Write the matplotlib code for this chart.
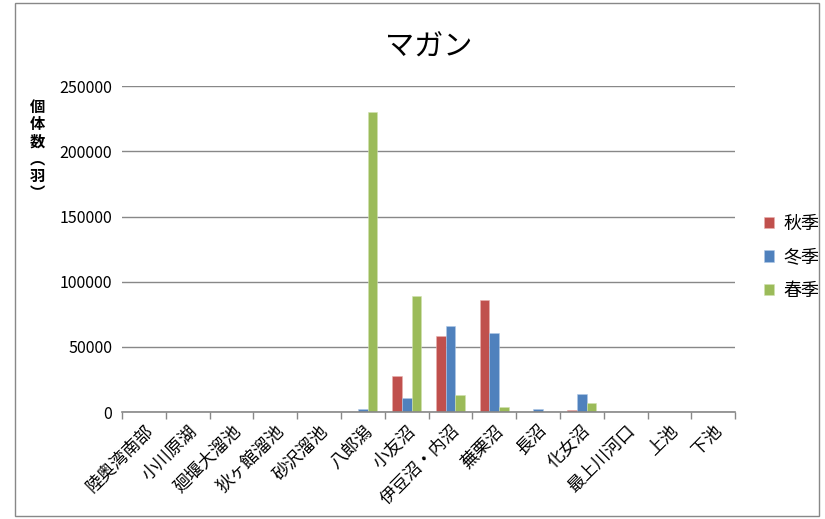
import numpy as np
import matplotlib
matplotlib.use('Agg')
import matplotlib.pyplot as plt
from matplotlib.patches import Rectangle
from matplotlib.transforms import ScaledTranslation

plt.rcParams['font.family'] = ['Noto Sans CJK JP', 'DejaVu Sans']

# データ
sites = ['陸奥湾南部', '小川原湖', '廻堰大溜池', '狄ヶ館溜池', '砂沢溜池', '八郎潟', '小友沼',
         '伊豆沼・内沼', '蕪栗沼', '長沼', '化女沼', '最上川河口', '上池', '下池']
autumn = [0, 0, 0, 0, 0, 0, 27500, 58500, 86000, 0, 1500, 0, 0, 0]
winter = [0, 0, 0, 0, 0, 2000, 10500, 66000, 61000, 2000, 14000, 0, 0, 0]
spring = [0, 0, 0, 0, 0, 230000, 89000, 13000, 4000, 0, 7000, 0, 0, 0]
yticks = [0, 50000, 100000, 150000, 200000, 250000]

fig = plt.figure(figsize=(8.25, 5.19), dpi=100)
ax = fig.add_axes([0.148, 0.206, 0.743, 0.628])

x = np.arange(len(sites))
w = 0.22
ax.bar(x - w, autumn, w, color='#c0504d', edgecolor='#e8b0ae', linewidth=0.4, label='秋季')
ax.bar(x, winter, w, color='#4f81bd', edgecolor='#b0c8e6', linewidth=0.4, label='冬季')
ax.bar(x + w, spring, w, color='#9bbb59', edgecolor='#d0e2b0', linewidth=0.4, label='春季')

ax.set_xlim(-0.5, len(sites) - 0.5)
ax.set_ylim(0, 250000)
ax.set_yticks(yticks)
ax.set_yticklabels([str(v) for v in yticks], fontsize=11.5)
ax.yaxis.grid(True, color='#888888', linewidth=1)
ax.set_axisbelow(True)
ax.tick_params(axis='y', length=0, pad=7)

ax.set_xticks(x)
ax.set_xticklabels(sites, rotation=45, ha='right', rotation_mode='anchor', fontsize=12.5)
offset = ScaledTranslation(7 / 72, 0, fig.dpi_scale_trans)
for lab in ax.get_xticklabels():
    lab.set_transform(lab.get_transform() + offset)
ax.set_xticks(np.arange(-0.5, len(sites)), minor=True)
ax.tick_params(axis='x', which='major', length=0, pad=7)
ax.tick_params(axis='x', which='minor', length=5, color='#888888', width=1)

for s in ['left', 'right', 'top']:
    ax.spines[s].set_visible(False)
ax.spines['bottom'].set_color('#888888')
ax.spines['bottom'].set_linewidth(1.2)

ax.set_title('マガン', fontsize=21, pad=22)
fig.text(0.036, 0.81, '個\n体\n数\n︵\n羽\n︶', fontsize=11, fontweight='bold',
         va='top', ha='left', linespacing=1.1)

ax.legend(loc='center left', bbox_to_anchor=(1.02, 0.475), frameon=False, fontsize=13,
          handlelength=0.6, handleheight=0.6, labelspacing=0.85, handletextpad=0.5)

fig.patches.append(Rectangle((0.018, 0.005), 0.975, 0.99, transform=fig.transFigure,
                             fill=False, edgecolor='#888888', linewidth=1))

fig.savefig('out.png', dpi=100)
